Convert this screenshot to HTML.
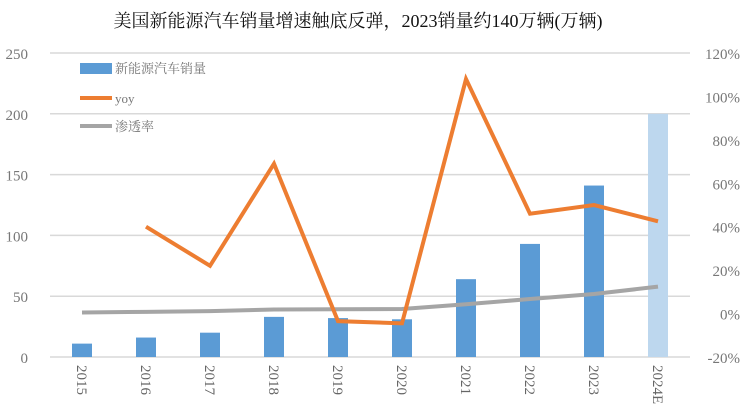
<!DOCTYPE html>
<html><head><meta charset="utf-8"><style>
body{margin:0;background:#fff;}
svg text{font-family:"Liberation Serif","Noto Serif CJK SC",serif;}
</style></head><body>
<svg width="753" height="407" xmlns="http://www.w3.org/2000/svg">
<text x="358" y="27" text-anchor="middle" font-size="18" fill="#111" style="font-family:'Liberation Serif','Noto Serif CJK SC',serif">美国新能源汽车销量增速触底反弹，2023销量约140万辆(万辆)</text>
<g id="grid"></g><g id="bars"></g><g id="lines"></g><g id="axes"></g>
<g>
<rect x="80" y="63" width="32" height="11" fill="#5b9bd5"/>
<text x="115" y="73" font-size="13" fill="#777">新能源汽车销量</text>
<line x1="80" y1="98" x2="112" y2="98" stroke="#ed7d31" stroke-width="4"/>
<text x="115" y="103" font-size="13" fill="#777">yoy</text>
<line x1="80" y1="126" x2="112" y2="126" stroke="#a5a5a5" stroke-width="4"/>
<text x="115" y="131" font-size="13" fill="#777">渗透率</text>
</g>
</svg>
<script>
const categories=["2015","2016","2017","2018","2019","2020","2021","2022","2023","2024E"];
const sales=[11,16,20,33,32,31,64,93,141,200];
const yoy=[null,40,22,69,-3.5,-4.5,108,46,50,42.5];
const penetration=[0.5,0.8,1.1,1.9,2.0,2.1,4.3,6.7,9.0,12.4];
const leftTicks=[0,50,100,150,200,250];
const rightTicks=[-20,0,20,40,60,80,100,120];
const NS="http://www.w3.org/2000/svg";
const x0=50,x1=690,yTop=53,yBot=357;
const step=(x1-x0)/categories.length;
const xC=i=>x0+step*(i+0.5);
const yL=v=>yBot-(v/250)*(yBot-yTop);
const yR=v=>yBot-((v+20)/140)*(yBot-yTop);
function mk(tag,attrs,parent,txt){const e=document.createElementNS(NS,tag);for(const k in attrs)e.setAttribute(k,attrs[k]);if(txt!=null)e.textContent=txt;document.getElementById(parent).appendChild(e);return e;}
leftTicks.forEach(t=>{
 const l=mk("line",{x1:x0,x2:x1,y1:yL(t),y2:yL(t),stroke:"#d9d9d9","stroke-width":1.5},"grid");
 
 
 const tx=mk("text",{x:28,y:yL(t)+6,"text-anchor":"end","font-size":15,fill:"#777"},"axes",t);
 
 
});
rightTicks.forEach(t=>{
 const tx=mk("text",{x:740,y:yR(t)+6,"text-anchor":"end","font-size":15,fill:"#777"},"axes",t+"%");
 
 
});
categories.forEach((c,i)=>{
 const b=mk("rect",{x:xC(i)-10,y:yL(sales[i]),width:20,height:yBot-yL(sales[i]),fill:i===9?"#bdd7ee":"#5b9bd5"},"bars");
 
 
 const tx=mk("text",{x:0,y:0,"font-size":15,fill:"#666",transform:`translate(${xC(i)-5},365) rotate(90)`},"axes",c);
 
 
});
const pp=penetration.map((v,i)=>xC(i)+","+yR(v)).join(" ");
const pl=mk("polyline",{points:pp,fill:"none",stroke:"#a5a5a5","stroke-width":4,"stroke-linejoin":"round"},"lines");


const yp=yoy.map((v,i)=>v==null?null:xC(i)+","+yR(v)).filter(Boolean).join(" ");
const yl=mk("polyline",{points:yp,fill:"none",stroke:"#ed7d31","stroke-width":4,"stroke-linejoin":"miter"},"lines");


</script>
</body></html>
